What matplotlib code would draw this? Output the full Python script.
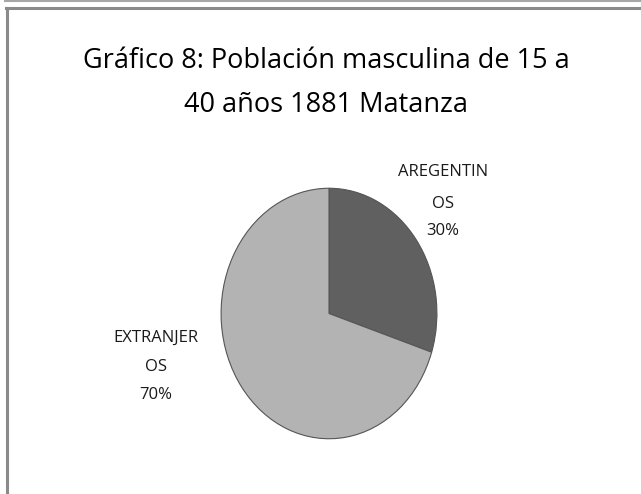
import matplotlib
matplotlib.use('Agg')
import matplotlib.pyplot as plt
from matplotlib.lines import Line2D

# Datos del grafico
categorias = ['AREGENTIN\nOS', 'EXTRANJER\nOS']
valores = [30, 70]
colores = ['#606060', '#b3b3b3']
titulo = ['Gráfico 8: Población masculina de 15 a', '40 años 1881 Matanza']

plt.rcParams['font.family'] = ['Open Sans', 'DejaVu Sans']

fig = plt.figure(figsize=(6.41, 4.94), dpi=100)
W, H = 641, 494

# Marcos grises del grafico
fig.add_artist(Line2D([5 / W, 1], [1 - 1 / H, 1 - 1 / H], color='#a6a6a6', lw=1.5))
fig.add_artist(Line2D([6 / W, 1], [1 - 8 / H, 1 - 8 / H], color='#8a8a8a', lw=2.2))
fig.add_artist(Line2D([7 / W, 7 / W], [0, 1 - 8 / H], color='#8a8a8a', lw=2.2))

# Titulo (dos lineas)
for linea, yb in zip(titulo, [68, 112]):
    fig.text(326 / W, 1 - yb / H, linea, ha='center', va='baseline', fontsize=19.5,
             color='black')

# Pie estirado en vertical como en el original
ax = fig.add_axes([220 / W, (H - 440) / H, 218 / W, 253 / H])
wedges, _ = ax.pie(valores, colors=colores, startangle=90, counterclock=False,
                   wedgeprops=dict(edgecolor='#555555', linewidth=0.8))
ax.set_aspect('auto')
ax.set_xlim(-1.01, 1.01)
ax.set_ylim(-1.01, 1.01)
ax.axis('off')

# Etiquetas: nombre partido en dos lineas + porcentaje
pos_etiquetas = [(443, [172, 204, 231]), (156, [338, 367, 395])]
for cat, v, (px, ys) in zip(categorias, valores, pos_etiquetas):
    lineas = cat.split('\n') + [str(v) + '%']
    for txt, py in zip(lineas, ys):
        fig.text(px / W, 1 - py / H, txt, ha='center', va='center',
                 fontsize=12, color='#1a1a1a')

fig.savefig('out.png', dpi=100)
